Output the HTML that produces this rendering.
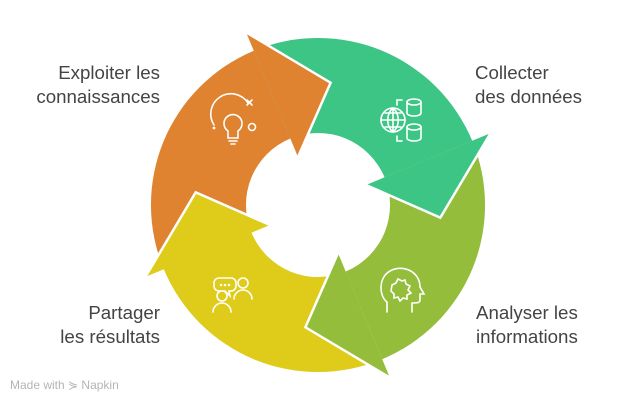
<!DOCTYPE html>
<html><head><meta charset="utf-8"><style>
html,body{margin:0;padding:0;background:#fff;}
body{width:623px;height:402px;overflow:hidden;position:relative;font-family:"Liberation Sans",sans-serif;}
.t{position:absolute;font-size:18.7px;line-height:24px;color:#444;}
.r{text-align:right;}
</style></head><body>
<svg width="623" height="402" style="position:absolute;left:0;top:0">
<path fill="#DF8331" d="M163.8,269.2 A167,167 0 0 1 253.8,50.8 L290.3,138.5 A72,72 0 0 0 251.5,232.7 Z"/>
<path fill="#3DC585" d="M253.8,50.8 A167,167 0 0 1 472.2,140.8 L384.5,177.3 A72,72 0 0 0 290.3,138.5 Z"/>
<path fill="#94BD3B" d="M472.2,140.8 A167,167 0 0 1 382.2,359.2 L345.7,271.5 A72,72 0 0 0 384.5,177.3 Z"/>
<path fill="#DECB1A" d="M382.2,359.2 A167,167 0 0 1 163.8,269.2 L251.5,232.7 A72,72 0 0 0 345.7,271.5 Z"/>
<g stroke="#fff" stroke-width="2.5" stroke-linejoin="miter">
<polygon fill="#DF8331" stroke="none" points="246.1,32.4 330.6,82.7 298,157 290.3,138.5 253.8,50.8"/>
<polyline fill="none" points="246.1,32.4 330.6,82.7 298,157"/>
<polygon fill="#3DC585" stroke="none" points="490.6,133.1 440.3,217.6 366,185 384.5,177.3 472.2,140.8"/>
<polyline fill="none" points="490.6,133.1 440.3,217.6 366,185"/>
<polygon fill="#94BD3B" stroke="none" points="389.9,377.6 305.4,327.3 338,253 345.7,271.5 382.2,359.2"/>
<polyline fill="none" points="389.9,377.6 305.4,327.3 338,253"/>
<polygon fill="#DECB1A" stroke="none" points="145.4,276.9 195.7,192.4 270,225 251.5,232.7 163.8,269.2"/>
<polyline fill="none" points="145.4,276.9 195.7,192.4 270,225"/>
</g>
<g fill="none" stroke="#fff" stroke-width="1.6" stroke-linecap="round">
<path d="M214,125 A20,20 0 0 1 248,103"/>
<path d="M247,100 l5,5 M252,100 l-5,5"/>
<circle cx="252" cy="127" r="3.5"/>
<circle cx="214" cy="128" r="0.6"/>
<path d="M228,131 A9,9 0 1 1 238,131 L238,138 L228,138 Z M229,141 h8 M231,144 h4"/>
<circle cx="393" cy="120" r="12"/>
<path d="M381,120 h24 M393,108 v24 M385,113 h16 M385,127 h16 M393,108 c-7,6 -7,18 0,24 M393,108 c7,6 7,18 0,24"/>
<path d="M402,100 h-5 v5 M402,141 h-5 v-5"/>
<ellipse cx="414" cy="102" rx="7" ry="3"/>
<path d="M407,102 v11 c0,4 14,4 14,0 v-11"/>
<ellipse cx="414" cy="127" rx="7" ry="3"/>
<path d="M407,127 v11 c0,4 14,4 14,0 v-11"/>
<path d="M387,312 v-10 c-8,-6 -9,-24 3,-31 c12,-7 30,0 30,16 l4,7 h-4 v6 c0,3 -3,3 -8,3 v9"/>
<path d="M392,285 l4,-2 l2,-4 l4,2 l3,-1 l1,4 l4,2 l-2,4 l3,3 l-4,2 l0,4 l-4,-1 l-3,3 l-2,-4 l-4,1 l0,-4 l-3,-3 z"/>
<path d="M219,278 h12 a5,5 0 0 1 5,5 v3 a5,5 0 0 1 -5,5 h-2 l1,5 l-5,-5 h-6 a5,5 0 0 1 -5,-5 v-3 a5,5 0 0 1 5,-5 z"/>
<circle cx="221" cy="285" r="0.5"/><circle cx="225" cy="285" r="0.5"/><circle cx="229" cy="285" r="0.5"/>
<circle cx="243" cy="283" r="5"/>
<path d="M234,299 a9,9 0 0 1 18,0"/>
<circle cx="222" cy="296" r="5"/>
<path d="M213,312 a9,9 0 0 1 18,0"/>
</g>
</svg>
<div class="t r" style="right:463px;top:61px;">Exploiter les<br>connaissances</div>
<div class="t" style="left:475px;top:61px;">Collecter<br>des données</div>
<div class="t" style="left:476px;top:301px;">Analyser les<br>informations</div>
<div class="t r" style="right:463px;top:301px;">Partager<br>les résultats</div>
<div style="position:absolute;left:10px;top:378px;font-size:12px;color:#b5b5b5;">Made with ⋟ Napkin</div>
</body></html>
